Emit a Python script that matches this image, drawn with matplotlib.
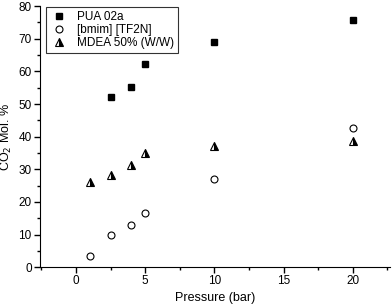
import matplotlib
matplotlib.use("Agg")
import matplotlib.pyplot as plt
from matplotlib.ticker import MultipleLocator

plt.rcParams["font.family"] = ["Liberation Sans", "DejaVu Sans"]
plt.rcParams["font.size"] = 8

# data
pua_p = [2.5, 4, 5, 10, 20]
pua_co2 = [52.0, 55.3, 62.3, 69.0, 75.7]
bmim_p = [1, 2.5, 4, 5, 10, 20]
bmim_co2 = [3.3, 9.8, 12.8, 16.5, 27.0, 42.7]
mdea_p = [1, 2.5, 4, 5, 10, 20]
mdea_co2 = [26.2, 28.2, 31.3, 35.0, 37.2, 38.7]

fig = plt.figure(figsize=(3.92, 3.06), dpi=100)
ax = fig.add_axes([0.102, 0.127, 0.893, 0.853])

ax.plot(pua_p, pua_co2, "s", color="black", markersize=4.5, label="PUA 02a")
ax.plot(bmim_p, bmim_co2, "o", markerfacecolor="white", markeredgecolor="black",
        markeredgewidth=0.8, markersize=5, label="[bmim] [TF2N]")
ax.plot(mdea_p, mdea_co2, "^", color="black", fillstyle="right",
        markerfacecoloralt="white", markeredgewidth=0.8, markersize=5.5,
        label="MDEA 50% (W/W)")

ax.set_xlim(-2.6, 22.7)
ax.set_ylim(0, 80)
ax.xaxis.set_major_locator(MultipleLocator(5))
ax.xaxis.set_minor_locator(MultipleLocator(2.5))
ax.yaxis.set_major_locator(MultipleLocator(10))
ax.yaxis.set_minor_locator(MultipleLocator(5))
ax.spines["top"].set_visible(False)
ax.spines["right"].set_visible(False)
ax.tick_params(which="major", length=4, width=1, direction="out", pad=2,
               labelsize=8.5)
ax.tick_params(which="minor", length=2.5, width=1, direction="out")

ax.set_xlabel("Pressure (bar)", fontsize=9, labelpad=3)
ax.set_ylabel("CO$_2$ Mol. %", fontsize=9, labelpad=3)

leg = ax.legend(loc="upper left", bbox_to_anchor=(0.015, 1.0), frameon=True,
                fancybox=False, edgecolor="black", fontsize=8.5,
                handletextpad=0.8, borderpad=0.3, labelspacing=0.1,
                handlelength=1.5, borderaxespad=0.1)
leg.get_frame().set_linewidth(0.8)

fig.savefig("out.png", dpi=100)
